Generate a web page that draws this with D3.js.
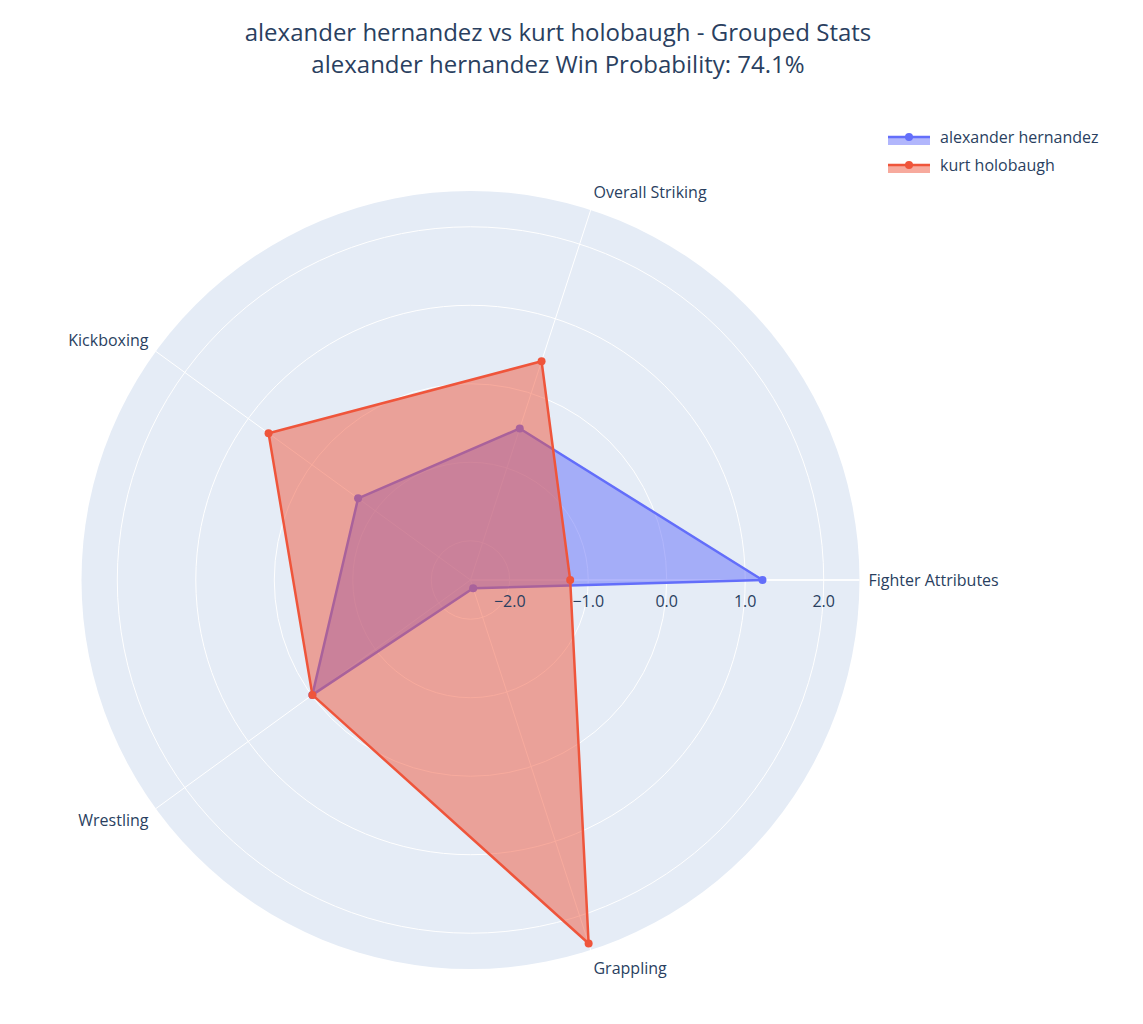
<!DOCTYPE html>
<html><head><meta charset="utf-8">
<script src="https://cdn.jsdelivr.net/npm/d3@7"></script>
<style>body{margin:0;background:#fff;font-family:"Open Sans",sans-serif;}</style>
</head><body><div id="chart"></div>
<script>
const categories = ["Fighter Attributes", "Overall Striking", "Kickboxing", "Wrestling", "Grappling"];
const fighters = ["alexander hernandez", "kurt holobaugh"];
const hernandez = [1.22, -0.47, -0.73, -0.01, -2.39];
const holobaugh = [-1.23, 0.43, 0.68, -0.01, 2.37];
const radialTicks = [-2, -1, 0, 1, 2];
const colors = ["#636efa", "#EF553B"];

const width = 1143, height = 1024;
const cx = 470.5, cy = 580, R = 389;
const svg = d3.select('#chart').append('svg').attr('width', width).attr('height', height);
const ink = '#2a3f5f';

svg.append('text').attr('x', 558).attr('y', 41).attr('text-anchor', 'middle')
  .attr('font-size', 24).attr('fill', ink).text('alexander hernandez vs kurt holobaugh - Grouped Stats');
svg.append('text').attr('x', 558).attr('y', 73).attr('text-anchor', 'middle')
  .attr('font-size', 24).attr('fill', ink).text('alexander hernandez Win Probability: 74.1%');

const r = d3.scaleLinear().domain([-2.5, 2.456]).range([0, R]);
const ang = d3.scalePoint().domain(categories).range([0, 2 * Math.PI * 4 / 5]);
const px = (c, v) => cx + r(v) * Math.cos(ang(c));
const py = (c, v) => cy - r(v) * Math.sin(ang(c));

const g = svg.append('g');
g.append('circle').attr('cx', cx).attr('cy', cy).attr('r', R).attr('fill', '#E5ECF6');
radialTicks.forEach(t => g.append('circle').attr('cx', cx).attr('cy', cy).attr('r', r(t))
  .attr('fill', 'none').attr('stroke', '#fff').attr('stroke-width', 1));
categories.forEach(c => g.append('line').attr('x1', cx).attr('y1', cy)
  .attr('x2', cx + R * Math.cos(ang(c))).attr('y2', cy - R * Math.sin(ang(c)))
  .attr('stroke', '#fff').attr('stroke-width', 1));
g.append('line').attr('x1', cx).attr('y1', cy).attr('x2', cx + R).attr('y2', cy)
  .attr('stroke', '#fff').attr('stroke-width', 1.5);

[hernandez, holobaugh].forEach((vals, i) => {
  const pts = categories.map((c, j) => [px(c, vals[j]), py(c, vals[j])]);
  g.append('path').attr('d', d3.line()(pts) + 'Z')
    .attr('fill', colors[i]).attr('fill-opacity', 0.5)
    .attr('stroke', colors[i]).attr('stroke-width', 2.5).attr('stroke-linejoin', 'round');
  g.selectAll(null).data(pts).join('circle').attr('cx', d => d[0]).attr('cy', d => d[1])
    .attr('r', 4).attr('fill', colors[i]);
});

radialTicks.forEach(t => g.append('text').attr('x', cx + r(t)).attr('y', cy + 27)
  .attr('text-anchor', 'middle').attr('font-size', 16).attr('fill', ink)
  .text(d3.format('.1f')(t).replace('-', '\u2212')));

categories.forEach(c => {
  const a = ang(c), x = cx + (R + 9) * Math.cos(a), y = cy - (R + 9) * Math.sin(a);
  const cs = Math.cos(a), sn = Math.sin(a);
  g.append('text').attr('x', x).attr('y', y + 6 - sn * 10)
    .attr('text-anchor', cs > 0.1 ? 'start' : cs < -0.1 ? 'end' : 'middle')
    .attr('font-size', 16).attr('fill', ink).text(c);
});

fighters.forEach((f, i) => {
  const y = 138 + i * 28;
  svg.append('rect').attr('x', 888).attr('y', y - 1).attr('width', 42).attr('height', 8)
    .attr('fill', colors[i]).attr('fill-opacity', 0.5);
  svg.append('line').attr('x1', 888).attr('x2', 930).attr('y1', y - 1).attr('y2', y - 1)
    .attr('stroke', colors[i]).attr('stroke-width', 2.5);
  svg.append('circle').attr('cx', 909).attr('cy', y - 1).attr('r', 4).attr('fill', colors[i]);
  svg.append('text').attr('x', 940).attr('y', y + 5).attr('font-size', 16).attr('fill', ink).text(f);
});
</script></body></html>
